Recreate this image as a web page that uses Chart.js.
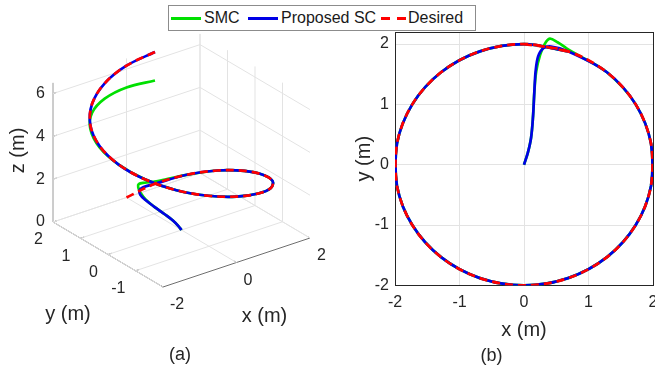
<!DOCTYPE html>
<html lang="en">
<head>
  <meta charset="UTF-8">
  <title>SMC vs Proposed SC trajectory</title>
  <script src="https://cdn.jsdelivr.net/npm/chart.js"></script>
  <style>
    body {
      margin: 0;
      background: #fff;
      font-family: 'Liberation Sans', Arial, sans-serif;
    }
    #fig {
      position: relative;
      width: 655px;
      height: 372px;
      overflow: hidden;
      background: #fff;
    }
    #c3d { position: absolute; left: 0; top: 0; }
    #c2d { position: absolute; left: 330px; top: 0; }
    .legend {
      position: absolute;
      left: 168px;
      top: 5px;
      width: 306px;
      height: 24px;
      border: 1px solid #8c8c8c;
      background: #fff;
      font-size: 16px;
      color: #1a1a1a;
    }
    .legend span.txt { position: absolute; top: 3px; line-height: 18px; }
    .legend span.sw { position: absolute; top: 11px; height: 3px; }
  </style>
</head>
<body>
  <div id="fig">
    <canvas id="c3d" width="330" height="372"></canvas>
    <canvas id="c2d" width="325" height="372"></canvas>
    <div class="legend">
      <span class="sw" style="left:2px;width:30px;background:#00e000"></span>
      <span class="txt" style="left:35px">SMC</span>
      <span class="sw" style="left:79px;width:30px;background:#0000e6"></span>
      <span class="txt" style="left:112px">Proposed SC</span>
      <span class="sw" style="left:212px;width:26px;background:repeating-linear-gradient(to right,#ff0000 0 9px,transparent 9px 16px)"></span>
      <span class="txt" style="left:239px">Desired</span>
    </div>
  </div>

  <script>
    const FONT = "'Liberation Sans', Arial, sans-serif";
    const TXT = '#262626';
    const GRID = '#e3e3e3';
    const AXIS = '#6e6e6e';

    // axis limits and ticks, 3D panel (a)
    const xLim = [-2, 2];
    const yLim = [-2, 2];
    const zLim = [0, 6.5];
    const xTicks3 = [-2, 0, 2];
    const yTicks3 = [-1, 0, 1, 2];
    const zTicks3 = [0, 2, 4, 6];

    // ticks, 2D panel (b)
    const xTicks2 = [-2, -1, 0, 1, 2];
    const yTicks2 = [-2, -1, 0, 1, 2];

    // desired helix
    const desiredX = [0, 0.684, 1.286, 1.732, 1.970, 1.970, 1.732, 1.286, 0.684, 0, -0.684, -1.286, -1.732, -1.970, -1.970, -1.732, -1.286, -0.684, 0, 0.684];
    const desiredY = [2, 1.879, 1.532, 1.0, 0.347, -0.347, -1.0, -1.532, -1.879, -2, -1.879, -1.532, -1.0, -0.347, 0.347, 1.0, 1.532, 1.879, 2, 1.879];
    const desiredZ = [0, 0.34, 0.68, 1.03, 1.37, 1.71, 2.05, 2.39, 2.74, 3.08, 3.42, 3.76, 4.11, 4.45, 4.79, 5.13, 5.47, 5.82, 6.16, 6.50];

    // proposed SC
    const scX = [0, 0.06, 0.11, 0.14, 0.16, 0.18, 0.22, 0.30, 0.42, 0.684, 1.286, 1.732, 1.970, 1.970, 1.732, 1.286, 0.684, 0, -0.684, -1.286, -1.732, -1.970, -1.970, -1.732, -1.286, -0.684, 0, 0.684];
    const scY = [0, 0.20, 0.45, 0.80, 1.20, 1.55, 1.80, 1.93, 1.96, 1.879, 1.532, 1.0, 0.347, -0.347, -1.0, -1.532, -1.879, -2, -1.879, -1.532, -1.0, -0.347, 0.347, 1.0, 1.532, 1.879, 2, 1.879];
    const scZ = [0, 0.01, 0.03, 0.05, 0.08, 0.12, 0.17, 0.22, 0.27, 0.34, 0.68, 1.03, 1.37, 1.71, 2.05, 2.39, 2.74, 3.08, 3.42, 3.76, 4.11, 4.45, 4.79, 5.13, 5.47, 5.82, 6.16, 6.50];

    // SMC
    const smcX = [0, 0.06, 0.11, 0.14, 0.16, 0.19, 0.25, 0.32, 0.40, 0.52, 0.66, 0.80, 1.286, 1.732, 1.970, 1.970, 1.732, 1.286, 0.684, 0, -0.684, -1.286, -1.732, -1.970, -1.970, -1.732, -1.286, -0.684, 0, 0.684];
    const smcY = [0, 0.20, 0.45, 0.80, 1.20, 1.55, 1.82, 2.00, 2.09, 2.03, 1.93, 1.84, 1.532, 1.0, 0.347, -0.347, -1.0, -1.532, -1.879, -2, -1.879, -1.532, -1.0, -0.347, 0.347, 1.0, 1.532, 1.879, 2, 1.879];
    const smcZ = [0, 0.01, 0.03, 0.05, 0.08, 0.13, 0.20, 0.28, 0.33, 0.37, 0.41, 0.45, 0.68, 1.03, 1.37, 1.71, 2.05, 2.39, 2.74, 3.08, 3.42, 3.76, 4.11, 4.45, 4.72, 4.95, 5.05, 5.10, 5.14, 5.17];

    // orthographic view (az -37.5, el 30), screen steps per data unit
    const view = { ux: 36.75, uy: -27.5, vx: 12.25, vy: 16.25, vz: 21.4 };
    function proj(x, y, z) {
      return { x: view.ux * x + view.uy * y, y: view.vx * x + view.vy * y + view.vz * z };
    }

    function seg(a, b, color) {
      return {
        data: [proj(a[0], a[1], a[2]), proj(b[0], b[1], b[2])],
        borderColor: color, borderWidth: 1, showLine: true, tension: 0,
        pointRadius: 0, order: 10
      };
    }

    const [x0, x1] = xLim, [y0, y1] = yLim, [z0, z1] = zLim;
    const frame = [];
    // back wall y = ymax
    zTicks3.forEach(z => frame.push(seg([x0, y1, z], [x1, y1, z], GRID)));
    xTicks3.forEach(x => frame.push(seg([x, y1, z0], [x, y1, z1], GRID)));
    // back wall x = xmax
    zTicks3.forEach(z => frame.push(seg([x1, y0, z], [x1, y1, z], GRID)));
    yTicks3.forEach(y => frame.push(seg([x1, y, z0], [x1, y, z1], GRID)));
    // floor
    xTicks3.forEach(x => frame.push(seg([x, y0, z0], [x, y1, z0], GRID)));
    yTicks3.forEach(y => frame.push(seg([x0, y, z0], [x1, y, z0], GRID)));
    // axis lines + tick marks
    frame.push(seg([x0, y1, z0], [x0, y1, z1], AXIS));
    frame.push(seg([x0, y0, z0], [x0, y1, z0], AXIS));
    frame.push(seg([x0, y0, z0], [x1, y0, z0], AXIS));
    zTicks3.forEach(z => frame.push(seg([x0, y1, z], [x0 + 0.1, y1, z], AXIS)));
    yTicks3.forEach(y => frame.push(seg([x0, y, z0], [x0 + 0.1, y, z0], AXIS)));
    xTicks3.forEach(x => frame.push(seg([x, y0, z0], [x, y0 + 0.1, z0], AXIS)));

    function path3(xs, ys, zs) {
      return xs.map((x, i) => proj(x, ys[i], zs[i]));
    }
    function path2(xs, ys) {
      return xs.map((x, i) => ({ x: x, y: ys[i] }));
    }

    const lineStyle = { showLine: true, pointRadius: 0, tension: 0.34, borderWidth: 2.7 };
    const curves3 = [
      Object.assign({ label: 'Desired', data: path3(desiredX, desiredY, desiredZ), borderColor: '#ff0000', borderDash: [8, 5], order: 0 }, lineStyle),
      Object.assign({ label: 'Proposed SC', data: path3(scX, scY, scZ), borderColor: '#0000e6', order: 1 }, lineStyle),
      Object.assign({ label: 'SMC', data: path3(smcX, smcY, smcZ), borderColor: '#00e000', order: 2 }, lineStyle)
    ];

    function fmt(v) { return String(v); }

    // text for the 3D box: tick labels and axis names at projected spots
    const labels3d = {
      id: 'labels3d',
      afterDraw(chart) {
        const { ctx } = chart;
        const sx = chart.scales.x, sy = chart.scales.y;
        const at = (x, y, z) => {
          const p = proj(x, y, z);
          return [sx.getPixelForValue(p.x), sy.getPixelForValue(p.y)];
        };
        ctx.save();
        ctx.fillStyle = TXT;
        ctx.font = '16px ' + FONT;
        ctx.textBaseline = 'middle';
        ctx.textAlign = 'right';
        zTicks3.forEach(z => { const [px, py] = at(x0, y1, z); ctx.fillText(fmt(z), px - 8, py); });
        yTicks3.forEach(y => { const [px, py] = at(x0, y, z0); ctx.fillText(fmt(y), px - 10, py + 18); });
        ctx.textAlign = 'left';
        xTicks3.forEach(x => { const [px, py] = at(x, y0, z0); ctx.fillText(fmt(x), px + 7, py + 18); });

        ctx.font = '20px ' + FONT;
        ctx.textAlign = 'center';
        let p = at(0, y0, z0);
        ctx.fillText('x (m)', p[0] + 28, p[1] + 54);
        p = at(x0, 0, z0);
        ctx.fillText('y (m)', p[0] - 40, p[1] + 60);
        p = at(x0, y1, (z0 + z1) / 2);
        ctx.save();
        ctx.translate(p[0] - 35, p[1] - 2);
        ctx.rotate(-Math.PI / 2);
        ctx.fillText('z (m)', 0, 0);
        ctx.restore();
        ctx.font = '18px ' + FONT;
        ctx.fillText('(a)', 180, 355);
        ctx.restore();
      }
    };

    new Chart(document.getElementById('c3d'), {
      type: 'scatter',
      data: { datasets: frame.concat(curves3) },
      options: {
        responsive: false,
        animation: false,
        events: [],
        layout: { padding: 0 },
        plugins: { legend: { display: false }, tooltip: { enabled: false } },
        scales: {
          x: { type: 'linear', display: false, min: -181.5, max: 148.5 },
          y: { type: 'linear', display: false, min: -142, max: 230 }
        }
      },
      plugins: [labels3d]
    });

    // 2D top view (b)
    const tickFont = { family: FONT, size: 16 };
    const titleFont = { family: FONT, size: 20 };
    new Chart(document.getElementById('c2d'), {
      type: 'scatter',
      data: {
        datasets: [
          Object.assign({ label: 'Desired', data: path2(desiredX, desiredY), borderColor: '#ff0000', borderDash: [8, 5], order: 0 }, lineStyle),
          Object.assign({ label: 'Proposed SC', data: path2(scX, scY), borderColor: '#0000e6', order: 1 }, lineStyle),
          Object.assign({ label: 'SMC', data: path2(smcX, smcY), borderColor: '#00e000', order: 2 }, lineStyle)
        ]
      },
      options: {
        responsive: false,
        animation: false,
        events: [],
        layout: { padding: { top: 32, right: 2, left: 0, bottom: 0 } },
        plugins: {
          legend: { display: false },
          tooltip: { enabled: false },
          title: {
            display: true, position: 'bottom', text: '(b)', color: TXT,
            font: { family: FONT, size: 18, weight: 'normal' }, padding: { top: 0, bottom: 5 }
          }
        },
        scales: {
          x: {
            type: 'linear', min: -2, max: 2,
            afterBuildTicks: s => { s.ticks = xTicks2.map(v => ({ value: v })); },
            afterFit: s => { s.height = 60; s.paddingLeft = 0; s.paddingRight = 0; },
            grid: { color: GRID, drawTicks: false },
            border: { color: TXT },
            ticks: { padding: 8, font: tickFont, color: TXT },
            title: { display: true, text: 'x (m)', font: titleFont, color: TXT, padding: { top: 0, bottom: 3 } }
          },
          y: {
            type: 'linear', min: -2, max: 2.2,
            afterBuildTicks: s => { s.ticks = yTicks2.map(v => ({ value: v })); },
            afterFit: s => { s.width = 65; },
            grid: { color: GRID, drawTicks: false },
            border: { color: TXT },
            ticks: { padding: 6, font: tickFont, color: TXT },
            title: { display: true, text: 'y (m)', font: titleFont, color: TXT, padding: { top: 22, bottom: 0 } }
          },
          xTop: {
            position: 'top', min: 0, max: 1,
            ticks: { display: false }, grid: { display: false, drawTicks: false },
            border: { display: true, color: TXT },
            afterFit: s => { s.height = 0; }
          },
          yRight: {
            position: 'right', min: 0, max: 1,
            ticks: { display: false }, grid: { display: false, drawTicks: false },
            border: { display: true, color: TXT },
            afterFit: s => { s.width = 0; }
          }
        }
      }
    });
  </script>
</body>
</html>
